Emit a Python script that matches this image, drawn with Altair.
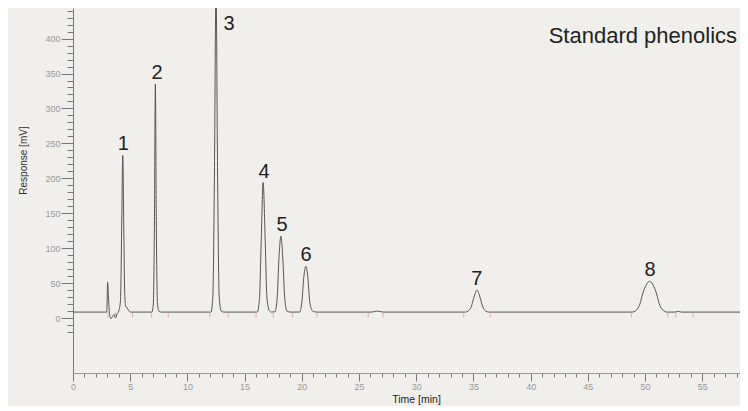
import altair as alt
import pandas as pd

# ---- data ----
trace_time = [0, 2.95, 3.03, 3.1, 3.2, 3.32, 3.45, 3.6, 3.72, 3.85, 4.0, 4.15, 4.27, 4.35, 4.43, 4.52, 4.62, 4.72, 4.85, 5.05,
              6.9, 7.02, 7.12, 7.2, 7.28, 7.38, 7.5, 7.7,
              12.05, 12.22, 12.36, 12.5, 12.64, 12.78, 12.95, 13.2,
              16.1, 16.3, 16.45, 16.62, 16.8, 16.95, 17.15, 17.35,
              17.65, 17.85, 18.0, 18.17, 18.34, 18.5, 18.7, 19.0,
              19.8, 20.0, 20.17, 20.35, 20.53, 20.7, 20.95, 21.3,
              26.1, 26.6, 27.1,
              34.3, 34.75, 35.05, 35.31, 35.57, 35.87, 36.3,
              48.9, 49.45, 49.9, 50.4, 50.9, 51.35, 51.9,
              52.6, 52.9, 53.2,
              58.3]
trace_mv = [8.5, 8.5, 51, 30, 5, -1, 2, 5, 0, 6, 10, 25, 150, 233, 140, 35, 16, 15, 11, 8.5,
            8.5, 20, 140, 335, 140, 22, 10, 8.5,
            8.5, 30, 200, 480, 200, 30, 10, 8.5,
            8.5, 28, 110, 194, 110, 30, 11, 8.5,
            9, 30, 85, 117, 85, 30, 10, 8.5,
            8.5, 22, 58, 74, 58, 22, 10, 8.5,
            8.5, 10, 8.5,
            8.5, 14, 30, 40, 30, 14, 8.5,
            8.5, 16, 40, 52.5, 40, 16, 8.5,
            8.5, 9.5, 8.5,
            8.5]

peak_labels = ["1", "2", "3", "4", "5", "6", "7", "8"]
label_time = [4.4, 7.34, 13.64, 16.7, 18.27, 20.37, 35.3, 50.44]
label_mv = [233, 335, 405, 194, 117, 74, 40, 52.5]

marker_time = [3.05, 3.7, 5.2, 6.87, 8.33, 11.97, 13.57, 16.0, 17.5, 19.2, 21.35,
               25.8, 27.1, 34.15, 36.48, 48.8, 52.0, 52.7, 54.2]
marker_mv = [4.5] * len(marker_time)

annotation = ["Standard phenolics"]
annotation_time = [58.04]
annotation_mv = [393.7]

y_tick_values = list(range(-20, 450, 10))
x_tick_values = list(range(0, 59, 1))

trace = pd.DataFrame({"t": trace_time, "mv": trace_mv})
labels = pd.DataFrame({"t": label_time, "mv": label_mv, "label": peak_labels})
markers = pd.DataFrame({"t": marker_time, "mv": marker_mv})
annot = pd.DataFrame({"t": annotation_time, "mv": annotation_mv, "text": annotation})

FONT = "Liberation Sans"
xscale = alt.Scale(domain=[0, 58.3], nice=False, zero=False)
yscale = alt.Scale(domain=[-78.7, 443.8], nice=False, zero=False)

x_axis = alt.Axis(
    values=x_tick_values,
    labelExpr="datum.value % 5 === 0 ? datum.label : ''",
    tickSize={"condition": {"test": "datum.value % 5 === 0", "value": 8}, "value": 4},
    tickColor="#777", domainColor="#999", labelColor="#999", labelFont=FONT,
    labelFontSize=9, labelPadding=1, labelOverlap=False, labelFlush=False,
    grid=False, title="Time [min]", titleFont=FONT, titleFontSize=10.5,
    titleFontWeight="normal", titleColor="#222", titlePadding=3, titleX=343,
)
y_axis = alt.Axis(
    values=y_tick_values,
    labelExpr="datum.value % 50 === 0 && datum.value >= 0 ? datum.label : ''",
    tickSize={"condition": {"test": "datum.value % 50 === 0", "value": 12}, "value": 6},
    tickColor="#777", domainColor="#777", labelColor="#999", labelFont=FONT,
    labelFontSize=9, labelPadding=1, labelOverlap=False, labelFlush=False,
    grid=False, title="Response [mV]", titleFont=FONT, titleFontSize=10,
    titleFontWeight="normal", titleColor="#333", titleX=-45, titleY=152,
)

line = alt.Chart(trace).mark_line(
    interpolate="monotone", color="#555", strokeWidth=1, clip=True
)

ticks = alt.Chart(markers).mark_tick(
    orient="vertical", color="#e09090", size=5, thickness=1
)

text = alt.Chart(labels).mark_text(
    font=FONT, fontSize=20, color="#222", baseline="alphabetic", align="center", dy=-5
).encode(text="label:N")

title_text = alt.Chart(annot).mark_text(
    font=FONT, fontSize=22, color="#222", baseline="alphabetic", align="right"
).encode(text="text:N")

chart = alt.layer(line, ticks, text, title_text).encode(
    x=alt.X("t:Q", scale=xscale, axis=x_axis),
    y=alt.Y("mv:Q", scale=yscale, axis=y_axis),
).properties(
    width=667, height=365,
    autosize=alt.AutoSizeParams(type="none"),
    padding={"left": 65, "top": 0, "right": 0, "bottom": 33},
    background="#f0efeb",
).configure_view(stroke=None)

chart.save("out.html", embed_options={"renderer": "svg", "actions": False})
